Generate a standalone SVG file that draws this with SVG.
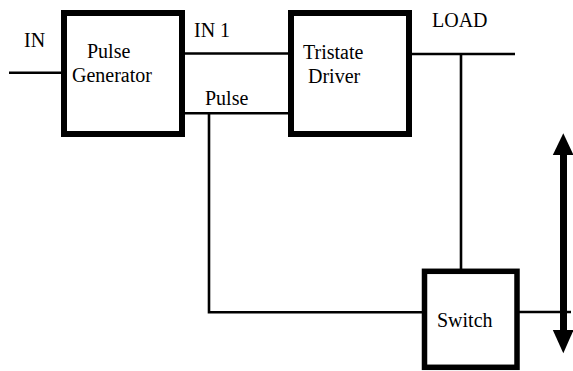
<svg xmlns="http://www.w3.org/2000/svg" width="573" height="371" viewBox="0 0 573 371">
<style>
.box{fill:#fff;stroke:#000;stroke-width:6}
.w{stroke:#000;stroke-width:2.6;fill:none}
.t{font-family:'Liberation Serif',Tinos,'Times New Roman',Times,'DejaVu Serif',serif;font-size:20px;fill:#000}
</style>
<rect width="573" height="371" fill="#fff"/>
<g id="connectors">
<line class="w" x1="9" y1="72.7" x2="62" y2="72.7"/>
<line class="w" x1="184" y1="53.5" x2="289" y2="53.5"/>
<line class="w" x1="184" y1="113.3" x2="289" y2="113.3"/>
<polyline class="w" points="209,113.3 209,312.3 423,312.3"/>
<line class="w" x1="410" y1="54" x2="515" y2="54"/>
<line class="w" x1="461" y1="54" x2="461" y2="269"/>
<line class="w" x1="518" y1="312" x2="571" y2="312"/>
<text class="t" x="24" y="47">IN</text>
<text class="t" x="194" y="37">IN 1</text>
<text class="t" x="205" y="105">Pulse</text>
<text class="t" x="432" y="27">LOAD</text>
</g>
<g id="pulse-generator">
<rect class="box" x="64" y="13" width="118" height="121"/>
<text class="t" x="87" y="58">Pulse</text>
<text class="t" x="72" y="82">Generator</text>
</g>
<g id="tristate-driver">
<rect class="box" x="291" y="13" width="118" height="121"/>
<text class="t" x="303" y="59">Tristate</text>
<text class="t" x="308" y="83">Driver</text>
</g>
<g id="switch">
<rect class="box" x="424.5" y="271.3" width="92.5" height="96" style="stroke-width:5.5"/>
<text class="t" x="437" y="327">Switch</text>
</g>
<g id="double-arrow">
<rect x="560" y="153" width="7" height="179" fill="#000"/>
<polygon points="563.3,133.3 552.8,155 573.5,155" fill="#000"/>
<polygon points="552.8,330 573.5,330 563.3,353.3" fill="#000"/>
</g>
</svg>
